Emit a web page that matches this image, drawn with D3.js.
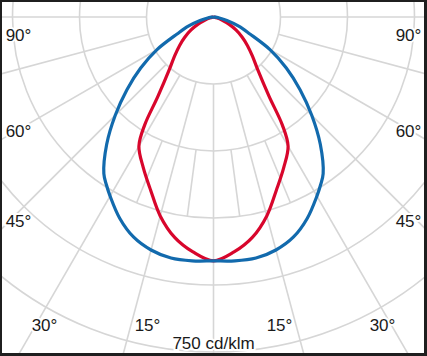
<!DOCTYPE html>
<html>
<head>
<meta charset="utf-8">
<script src="https://cdn.jsdelivr.net/npm/d3@7"></script>
<style>
html, body { margin: 0; padding: 0; background: #1f1f1f; }
svg { display: block; }
</style>
</head>
<body>
<svg id="ldc"></svg>
<script>
// gamma angles (deg, 0 = straight down) and intensities in cd/klm
var gammas     = [0, 5, 10, 15, 20, 25, 30, 32.5, 35, 40, 45, 50, 55, 60, 65, 70, 75, 80, 85, 90];
var blueValues = [546, 548, 548, 540, 524, 497, 463, 446, 428, 372, 311, 253, 199, 146, 90, 60, 31, 15, 5, 0];
var redValues  = [546, 528, 501, 461, 412, 372, 334, 287, 217, 154, 123, 99, 78, 58, 38, 20, 9, 2, 0, 0];

var ringValues = [150, 300, 450, 600, 750, 900];
var angleLabels = [90, 60, 45, 30, 15];
var unitLabel = '750 cd/klm';

var width = 427, height = 356;
var cx = 213.5, cy = 17;

var svg = d3.select('#ldc')
	.attr('width', width)
	.attr('height', height);

// dark frame, white plot area
svg.append('rect')
	.attr('width', width)
	.attr('height', height)
	.attr('fill', '#1f1f1f');

svg.append('clipPath')
	.attr('id', 'plotclip')
	.append('rect')
	.attr('x', 2).attr('y', 2)
	.attr('width', 422).attr('height', 351);

svg.append('rect')
	.attr('x', 2).attr('y', 2)
	.attr('width', 422).attr('height', 351)
	.attr('fill', '#fff');

var plot = svg.append('g')
	.attr('clip-path', 'url(#plotclip)');

var g = plot.append('g')
	.attr('transform', 'translate(' + cx + ',' + cy + ')');

var r = d3.scaleLinear()
	.domain([0, 750])
	.range([0, 335]);

function rad(deg) { return deg * Math.PI / 180; }

/****************************
 * grid
 ****************************/
var grid = g.append('g')
	.attr('fill', 'none')
	.attr('stroke', '#d6d6d6')
	.attr('stroke-width', 1.6);

grid.selectAll('circle')
	.data(ringValues)
	.enter().append('circle')
	.attr('r', function(d) { return r(d); });

// spokes every 15 deg from the first ring outward
grid.selectAll('line.spoke')
	.data(d3.range(-180, 180, 15))
	.enter().append('line')
	.attr('class', 'spoke')
	.attr('x1', function(d) { return r(150) * Math.sin(rad(d)); })
	.attr('y1', function(d) { return r(150) * Math.cos(rad(d)); })
	.attr('x2', function(d) { return r(1300) * Math.sin(rad(d)); })
	.attr('y2', function(d) { return r(1300) * Math.cos(rad(d)); });

// extra half-step spokes below the lamp, between second and third ring
grid.selectAll('line.fine')
	.data([-22.5, -7.5, 7.5, 22.5])
	.enter().append('line')
	.attr('class', 'fine')
	.attr('x1', function(d) { return r(300) * Math.sin(rad(d)); })
	.attr('y1', function(d) { return r(300) * Math.cos(rad(d)); })
	.attr('x2', function(d) { return r(450) * Math.sin(rad(d)); })
	.attr('y2', function(d) { return r(450) * Math.cos(rad(d)); });

/****************************
 * curves
 ****************************/
function mirrored(values) {
	var left = gammas.map(function(a, i) { return {g: -a, v: values[i]}; }).reverse();
	var right = gammas.map(function(a, i) { return {g: a, v: values[i]}; }).slice(1);
	return left.concat(right);
}

var line = d3.lineRadial()
	.angle(function(d) { return Math.PI - rad(d.g); })
	.radius(function(d) { return r(d.v); })
	.curve(d3.curveCatmullRom);

var series = [
	{name: 'C90-C270', values: redValues, color: '#d8062c'},
	{name: 'C0-C180', values: blueValues, color: '#126aad'}
];

g.selectAll('path.curve')
	.data(series)
	.enter().append('path')
	.attr('class', 'curve')
	.attr('d', function(d) { return line(mirrored(d.values)); })
	.attr('fill', 'none')
	.attr('stroke', function(d) { return d.color; })
	.attr('stroke-width', 3.2)
	.attr('stroke-linejoin', 'round');

/****************************
 * labels
 ****************************/
var labelSpot = {90: [195, 41], 60: [195, 137], 45: [195, 227], 30: [169, 331], 15: [66, 331]};
var labelData = [];
angleLabels.forEach(function(a) {
	labelData.push({text: a + '°', x: cx - labelSpot[a][0], y: labelSpot[a][1]});
	labelData.push({text: a + '°', x: cx + labelSpot[a][0], y: labelSpot[a][1]});
});
labelData.push({text: unitLabel, x: cx, y: 349});

plot.selectAll('text')
	.data(labelData)
	.enter().append('text')
	.attr('x', function(d) { return d.x; })
	.attr('y', function(d) { return d.y; })
	.attr('text-anchor', 'middle')
	.style('font-family', '"Liberation Sans", Arial, sans-serif')
	.style('font-size', '17px')
	.attr('fill', '#1a1a1a')
	.attr('stroke', '#fff')
	.attr('stroke-width', 4)
	.attr('paint-order', 'stroke')
	.text(function(d) { return d.text; });
</script>
</body>
</html>
